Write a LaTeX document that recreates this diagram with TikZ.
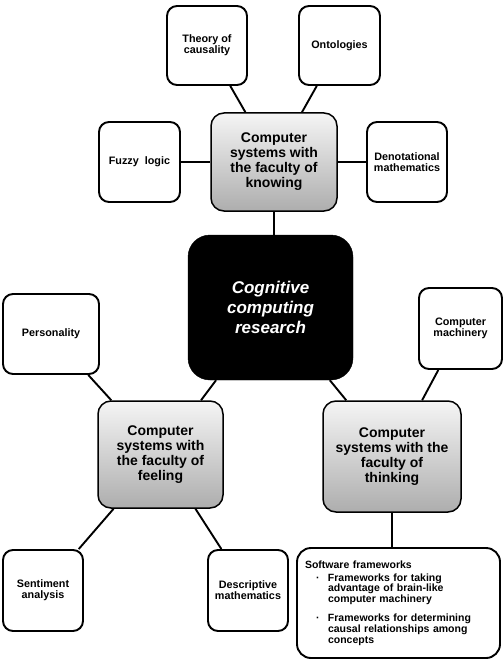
\documentclass[tikz,border=0pt]{standalone}
\usepackage{fontspec}
\setmainfont{Liberation Sans}
\begin{document}
\begin{tikzpicture}[x=1pt,y=-1pt,
  leaf/.style={draw=black, line width=1.9pt, rounded corners=10pt, fill=white, align=center,
    font=\bfseries\fontsize{10.8}{11}\selectfont, inner sep=2pt},
  hub/.style={draw=black, line width=1.5pt, rounded corners=13pt, top color=white!96!black,
    bottom color=white!68!black, align=center, font=\bfseries\fontsize{14}{15}\selectfont, inner sep=2pt},
  root/.style={draw=black, fill=black, text=white, rounded corners=22pt, align=center,
    font=\bfseries\itshape\fontsize{17}{20}\selectfont},
  link/.style={line width=1.9pt}]
\useasboundingbox (0,0) rectangle (503,666);

\node[leaf, minimum width=80pt, minimum height=79pt] (theory) at (207,45.5) {Theory of\\causality};
\node[leaf, minimum width=81pt, minimum height=79pt] (onto) at (339.5,45.5) {Ontologies};
\node[leaf, minimum width=81pt, minimum height=80pt] (fuzzy) at (139.5,162) {Fuzzy\ \ logic};
\node[leaf, minimum width=80pt, minimum height=80pt] (denot) at (407,162) {Denotational\\mathematics};
\node[hub, minimum width=126pt, minimum height=98pt] (knowing) at (274,162) {Computer\\systems with\\the faculty of\\knowing};

\node[root, minimum width=165pt, minimum height=145pt] (cog) at (270.5,307.5) {Cognitive\\computing\\research};

\node[leaf, minimum width=96pt, minimum height=80pt] (person) at (51,334) {Personality};
\node[leaf, minimum width=83pt, minimum height=81pt] (machine) at (460.5,328.5) {Computer\\machinery};
\node[hub, minimum width=125pt, minimum height=107pt] (feeling) at (160.5,454.5) {Computer\\systems with\\the faculty of\\feeling};
\node[hub, minimum width=138pt, minimum height=111pt] (thinking) at (392,456.5) {Computer\\systems with the\\faculty of\\thinking};

\node[leaf, minimum width=80pt, minimum height=81pt] (senti) at (43,590.5) {Sentiment\\analysis};
\node[leaf, minimum width=80pt, minimum height=81pt] (descr) at (248,590.5) {Descriptive\\mathematics};
\node[leaf, rounded corners=14pt, minimum height=110pt, text width=187pt, inner sep=8pt, align=left,
  font=\bfseries\fontsize{10.5}{10.6}\selectfont] (soft) at (398.5,603)
  {Software frameworks\\[2pt]
   \makebox[23pt][l]{\hspace*{11pt}\textperiodcentered}Frameworks for taking\\
   \hspace*{23pt}advantage of brain-like\\
   \hspace*{23pt}computer machinery\\[9pt]
   \makebox[23pt][l]{\hspace*{11pt}\textperiodcentered}Frameworks for determining\\
   \hspace*{23pt}causal relationships among\\
   \hspace*{23pt}concepts};

\draw[link] (theory) -- (knowing);
\draw[link] (onto) -- (knowing);
\draw[link] (fuzzy) -- (knowing);
\draw[link] (knowing) -- (denot);
\draw[link] (knowing.south) -- (knowing.south |- cog.north);
\draw[link] (cog) -- (feeling);
\draw[link] (cog) -- (thinking);
\draw[link] (person) -- (feeling);
\draw[link] (machine) -- (thinking);
\draw[link] (feeling) -- (senti);
\draw[link] (feeling) -- (descr);
\draw[link] (thinking.south) -- (thinking.south |- soft.north);
\end{tikzpicture}
\end{document}
